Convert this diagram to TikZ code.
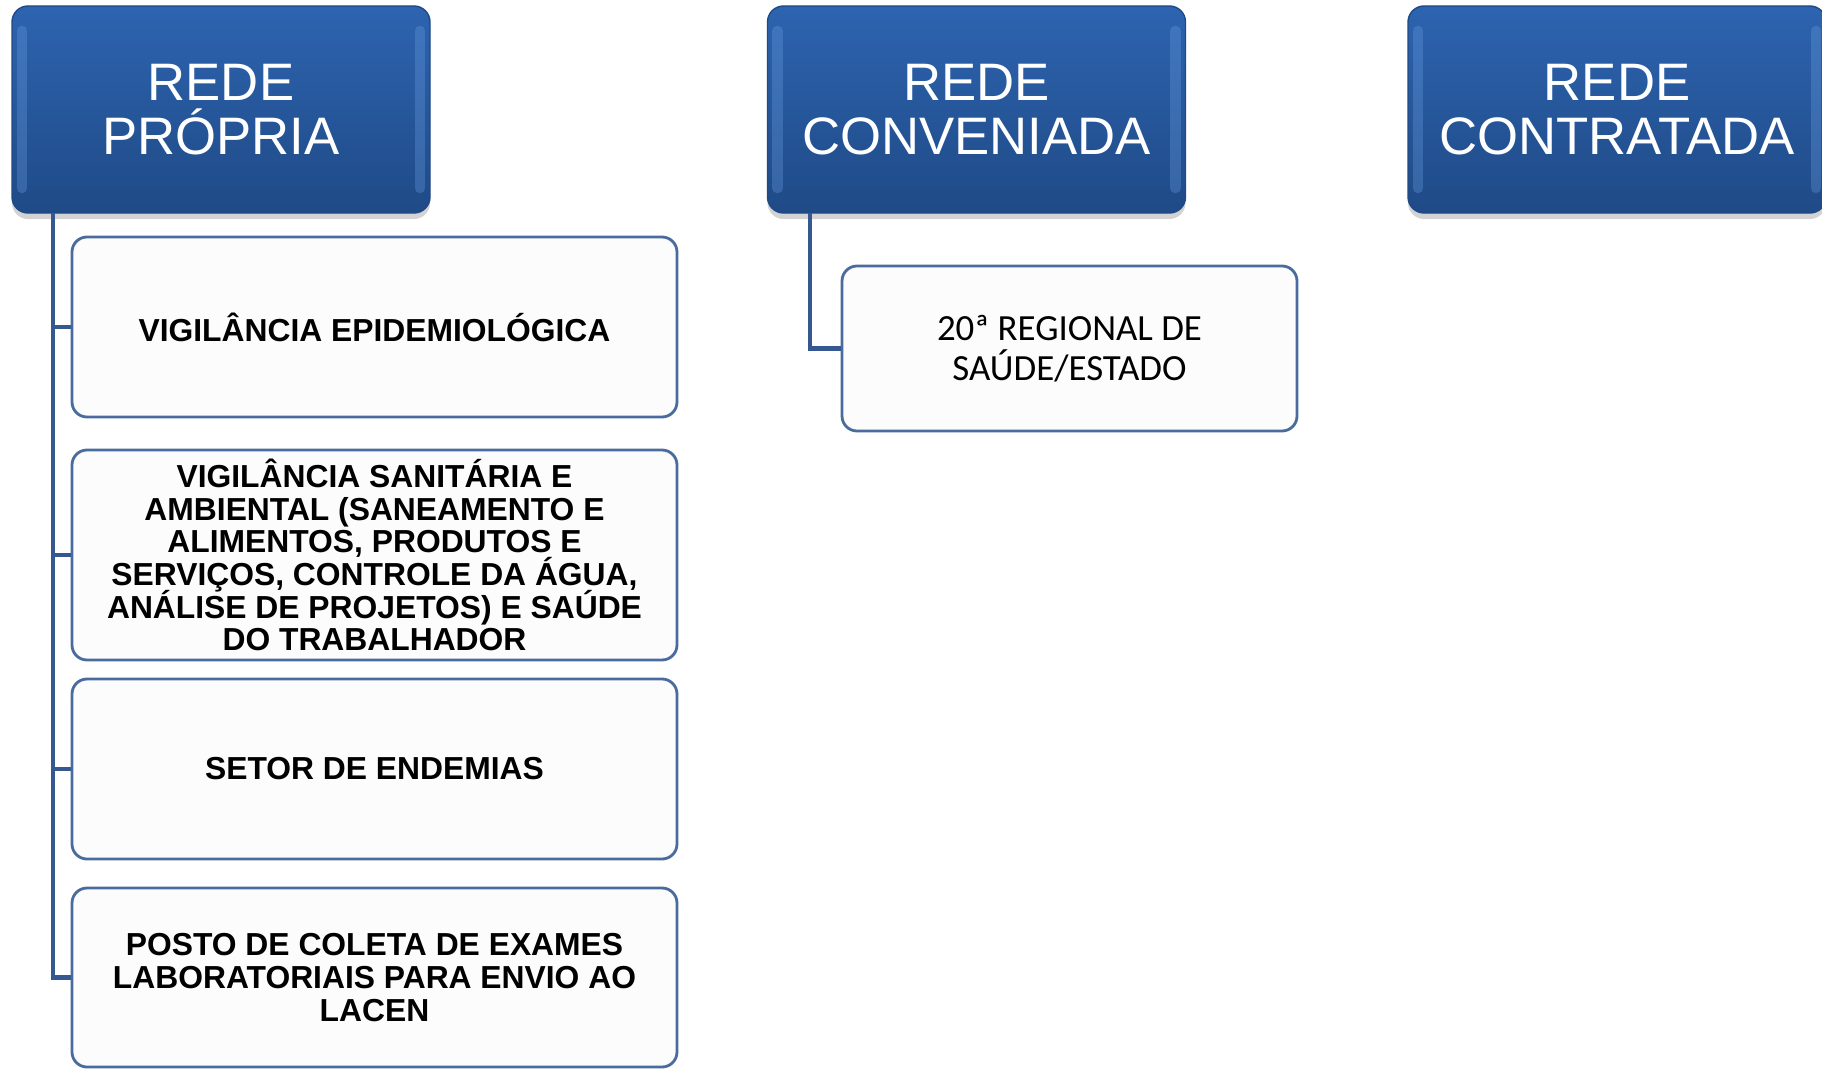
\documentclass[tikz,border=0pt]{standalone}
\usepackage{fontspec}
\setmainfont{Liberation Sans}
\newfontfamily\calibrifont{Carlito}
\usetikzlibrary{shadows}
\definecolor{azulTopo}{HTML}{2D64B0}
\definecolor{azulBase}{HTML}{1F4A86}
\definecolor{azulBrilho}{HTML}{6FA3E6}
\definecolor{azulLinha}{HTML}{34588F}
\definecolor{azulBorda}{HTML}{4A6B9E}
\tikzset{
  rede/.style={rectangle,rounded corners=0.16cm,minimum width=4.18cm,minimum height=2.07cm,
    top color=azulTopo,bottom color=azulBase,draw=azulBase,line width=0.4pt,
    drop shadow={opacity=0.35,shadow xshift=0pt,shadow yshift=-0.06cm},
    path picture={
      \draw[azulBrilho,line width=3pt,opacity=0.3,line cap=round]
        ([xshift=0.1cm,yshift=-0.25cm]path picture bounding box.north west) --
        ([xshift=0.1cm,yshift=0.25cm]path picture bounding box.south west);
      \draw[azulBrilho,line width=3pt,opacity=0.3,line cap=round]
        ([xshift=-0.1cm,yshift=-0.25cm]path picture bounding box.north east) --
        ([xshift=-0.1cm,yshift=0.25cm]path picture bounding box.south east);
    },
    text=white,align=center,font=\fontsize{15}{15.4}\selectfont},
  ramo/.style={rectangle,rounded corners=0.15cm,minimum width=6.05cm,inner ysep=1pt,
    fill=white!99!black,draw=azulBorda,line width=0.8pt,align=center,
    font=\fontsize{9.05}{9.3}\selectfont\bfseries,
    execute at begin node={\lineskiplimit=-5pt\relax}},
  conv/.style={rectangle,rounded corners=0.15cm,minimum width=4.55cm,minimum height=1.65cm,
    fill=white!99!black,draw=azulBorda,line width=0.8pt,align=center,
    font=\calibrifont\fontsize{10.5}{11.3}\selectfont},
  liga/.style={draw=azulLinha,line width=1.4pt}
}
\begin{document}
\begin{tikzpicture}[x=1cm,y=1cm]
  \useasboundingbox (0,0) rectangle (18.22,-10.68);
  % cabecalhos
  \node[rede] (propria) at (2.21,-1.095) {REDE\\PRÓPRIA};
  \node[rede] (conveniada) at (9.765,-1.095) {REDE\\CONVENIADA};
  \node[rede] (contratada) at (16.17,-1.095) {REDE\\CONTRATADA};
  % rede propria
  \node[ramo,minimum height=1.80cm] (epid) at (3.745,-3.27) {VIGILÂNCIA EPIDEMIOLÓGICA};
  \node[ramo,minimum height=2.10cm] (sanit) at (3.745,-5.55) {VIGILÂNCIA SANITÁRIA E\\AMBIENTAL (SANEAMENTO E\\ALIMENTOS, PRODUTOS E\\SERVIÇOS, CONTROLE DA ÁGUA,\\ANÁLISE DE PROJETOS) E SAÚDE\\DO TRABALHADOR};
  \node[ramo,minimum height=1.80cm] (endem) at (3.745,-7.69) {SETOR DE ENDEMIAS};
  \node[ramo,minimum height=1.79cm] (lacen) at (3.745,-9.775) {POSTO DE COLETA DE EXAMES\\LABORATORIAIS PARA ENVIO AO\\LACEN};
  % rede conveniada
  \node[conv] (regional) at (10.695,-3.485) {20ª REGIONAL DE\\SAÚDE/ESTADO};
  % ligacoes
  \coordinate (troncoA) at (0.53,-2.13);
  \coordinate (troncoB) at (8.10,-2.13);
  \draw[liga] (troncoA) |- (lacen.west);
  \foreach \n in {epid,sanit,endem}
    \draw[liga] (troncoA |- \n.west) -- (\n.west);
  \draw[liga] (troncoB) |- (regional.west);
\end{tikzpicture}
\end{document}
